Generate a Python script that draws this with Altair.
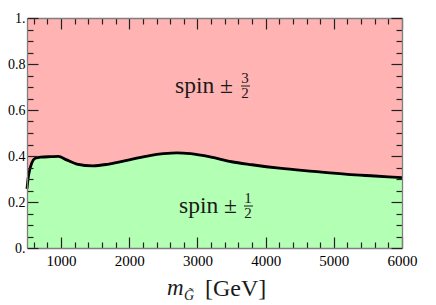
import altair as alt
import pandas as pd

# ---- data ----
mass = [500, 515, 540, 570, 620, 700, 850, 960, 1080, 1230, 1470, 1700, 2000,
        2300, 2500, 2700, 2900, 3200, 3500, 3800, 4200, 4700, 5200, 5600, 6000]
frac = [0.257, 0.30, 0.34, 0.37, 0.39, 0.395, 0.397, 0.398, 0.383, 0.365, 0.357,
        0.365, 0.383, 0.402, 0.41, 0.414, 0.41, 0.395, 0.375, 0.362, 0.347,
        0.333, 0.32, 0.313, 0.306]

x_major = [1000, 2000, 3000, 4000, 5000, 6000]
x_ticks = [600, 800, 1000, 1200, 1400, 1600, 1800, 2000, 2200, 2400, 2600, 2800,
           3000, 3200, 3400, 3600, 3800, 4000, 4200, 4400, 4600, 4800, 5000,
           5200, 5400, 5600, 5800, 6000]
y_major = [0, 0.2, 0.4, 0.6, 0.8, 1.0]
y_major_text = ["0.", "0.2", "0.4", "0.6", "0.8", "1."]
y_ticks = [0, 0.05, 0.1, 0.15, 0.2, 0.25, 0.3, 0.35, 0.4, 0.45, 0.5, 0.55, 0.6,
           0.65, 0.7, 0.75, 0.8, 0.85, 0.9, 0.95, 1.0]

upper_label = "spin ±"
upper_num, upper_den = "3", "2"
lower_label = "spin ±"
lower_num, lower_den = "1", "2"
title_m, title_sub, title_unit = "m", "G\u0303", "[GeV]"

# ---- styling ----
W, H = 375, 230
FONT = "Liberation Serif"
PINK = "#ffb3b3"
GREEN = "#b3ffb3"
FRAME = "#7f7f7f"
TICK = "#222222"

df = pd.DataFrame({"mass": mass, "frac": frac})
xscale = alt.Scale(domain=[500, 6000], nice=False, zero=False)
yscale = alt.Scale(domain=[0, 1], nice=False, zero=False)

y_expr = "[" + ",".join("'%s'" % t for t in y_major_text) + "][round(datum.value*5)]"

x_lab_axis = alt.Axis(orient="bottom", values=x_major, ticks=False, tickSize=0,
                      domain=False, grid=False, title=None, labelFont=FONT,
                      labelFontSize=15, labelColor="black", labelPadding=5,
                      labelFlush=False, labelOverlap=False, labelBound=False,
                      format="d")
y_lab_axis = alt.Axis(orient="left", values=y_major, ticks=False, tickSize=0,
                      domain=False, grid=False, title=None, labelFont=FONT,
                      labelFontSize=14, labelColor="black", labelPadding=2,
                      labelFlush=False, labelOverlap=False, labelBound=False,
                      labelExpr=y_expr)

xt_size = {"condition": {"test": "datum.value % 1000 === 0", "value": 11}, "value": 6}
yt_size = {"condition": {"test": "round(datum.value*20) % 4 === 0", "value": 11}, "value": 6}


def tick_axis(orient, offset, values, size):
    return alt.Axis(orient=orient, offset=offset, values=values, labels=False,
                    ticks=True, tickSize=size, tickColor=TICK, tickWidth=1.2,
                    domain=True, domainColor=FRAME, domainWidth=1.3, grid=False,
                    title=None, zindex=1)


green = alt.Chart(df).mark_area(color=GREEN, interpolate="monotone").encode(
    x=alt.X("mass:Q", scale=xscale, axis=x_lab_axis),
    y=alt.Y("frac:Q", scale=yscale, axis=y_lab_axis),
)
pink = alt.Chart(df).mark_area(color=PINK, interpolate="monotone").encode(
    x=alt.X("mass:Q", scale=xscale, axis=tick_axis("top", -H, x_ticks, xt_size)),
    y=alt.Y("frac:Q", scale=yscale, axis=tick_axis("right", -W, y_ticks, yt_size)),
    y2=alt.datum(1),
)
line = alt.Chart(df).mark_line(color="black", strokeWidth=2.8, interpolate="monotone").encode(
    x=alt.X("mass:Q", scale=xscale, axis=tick_axis("bottom", -H, x_ticks, xt_size)),
    y=alt.Y("frac:Q", scale=yscale, axis=tick_axis("left", -W, y_ticks, yt_size)),
)


def txt(s, x, y, size, align="left", italic=False):
    return alt.Chart(pd.DataFrame({"t": [s]})).mark_text(
        font=FONT, fontSize=size, align=align, baseline="alphabetic",
        color="#1a1a1a", fontStyle="italic" if italic else "normal",
    ).encode(text="t:N", x=alt.value(x), y=alt.value(y))


def bar(x1, x2, y):
    return alt.Chart(pd.DataFrame({"t": [0]})).mark_rule(
        color="#1a1a1a", strokeWidth=1).encode(
        x=alt.value(x1), x2=alt.value(x2), y=alt.value(y))


texts = [
    txt(upper_label, 206, 75, 23.5, align="right"),
    txt(upper_num, 218, 65, 15, align="center"),
    txt(upper_den, 218, 80, 15, align="center"),
    bar(214, 223, 68),
    txt(lower_label, 210, 195, 23.5, align="right"),
    txt(lower_num, 221, 185, 15, align="center"),
    txt(lower_den, 221, 200, 15, align="center"),
    bar(217, 226, 188),
    txt(title_m, 140, 277, 23, italic=True),
    txt(title_sub, 157, 282, 14, italic=True),
    txt(title_unit, 178, 278, 24),
]

chart = alt.layer(green, pink, line, *texts).resolve_axis(
    x="independent", y="independent"
).properties(
    width=W, height=H,
    autosize=alt.AutoSizeParams(type="none"),
    padding={"left": 19, "top": 10, "right": 26, "bottom": 57},
).configure_view(stroke=None)

chart.save("out.html", embed_options={"renderer": "svg", "actions": False})
